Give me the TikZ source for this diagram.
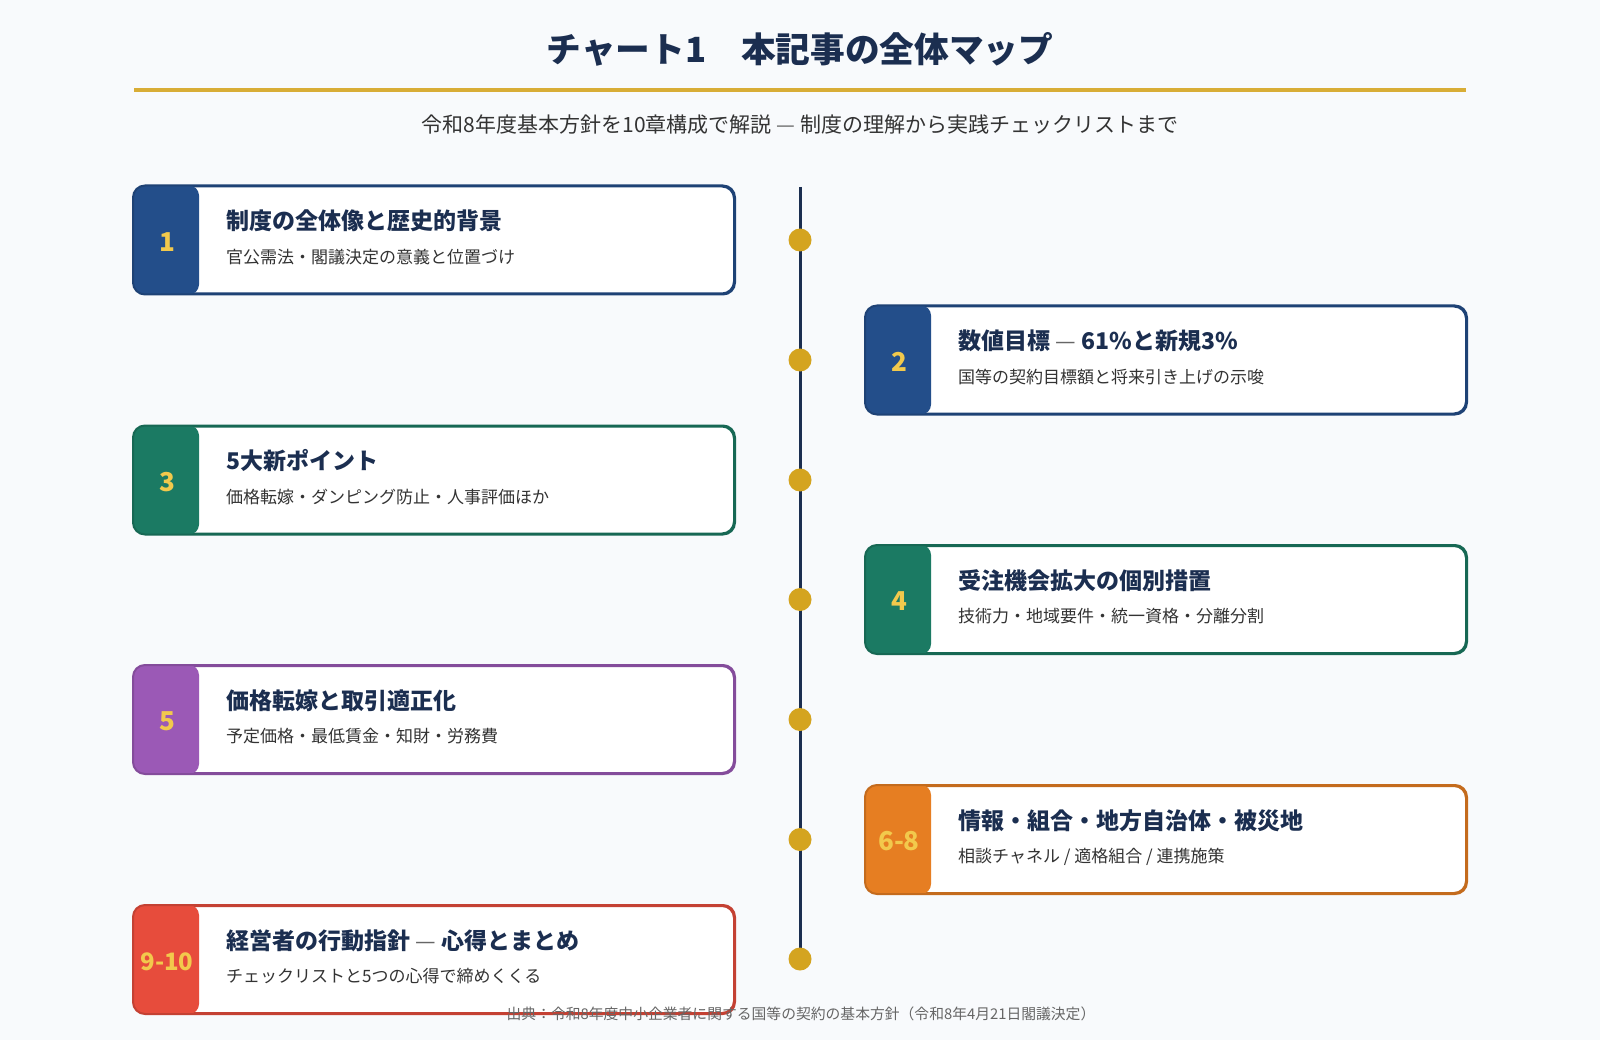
\documentclass[tikz,border=0pt]{standalone}
\usepackage{fontspec}
\setmainfont{Noto Sans CJK JP}
\definecolor{bgc}{HTML}{F8FAFC}
\definecolor{navy}{HTML}{1B2E50}
\definecolor{cnavy}{HTML}{234E8A}
\definecolor{cteal}{HTML}{1B7A63}
\definecolor{cpurple}{HTML}{9B59B6}
\definecolor{corange}{HTML}{E67E22}
\definecolor{cred}{HTML}{E74C3C}
\definecolor{gold}{HTML}{D4A420}
\definecolor{numgold}{HTML}{F2C94C}
\definecolor{subgray}{HTML}{333333}
\definecolor{footgray}{HTML}{666666}
\tikzset{
  cardbox/.style={draw, line width=2pt, rounded corners=12pt, fill=white,
    minimum width=600pt, minimum height=107pt, inner sep=0pt},
  cardtitle/.style={anchor=west, inner sep=0pt, font=\fontsize{23}{27}\selectfont\bfseries, text=navy},
  cardsub/.style={anchor=west, inner sep=0pt, font=\fontsize{17}{20}\selectfont, text=subgray},
  badgenum/.style={inner sep=0pt, font=\fontsize{26}{30}\selectfont\bfseries, text=numgold},
  tldot/.style={circle, fill=gold, minimum size=23pt, inner sep=0pt}
}
\newcommand\chapcard[7]{%
  % #1 name, #2 center x, #3 center y, #4 colour, #5 number, #6 title, #7 subtitle
  \node[cardbox, draw=#4!85!black] (#1) at (#2,#3) {};
  \begin{scope}
    \clip[rounded corners=12pt] (#1.south west) rectangle (#1.north east);
    \fill[#4, rounded corners=10pt] ([xshift=-20pt]#1.north west) rectangle ([xshift=66pt]#1.south west);
  \end{scope}
  \draw[#4!85!black, line width=2pt, rounded corners=12pt] (#1.south west) rectangle (#1.north east);
  \node[badgenum] (#1num) at ([xshift=34pt,yshift=-2pt]#1.west) {#5};
  \node[cardtitle] (#1title) at ([xshift=93pt,yshift=19pt]#1.west) {#6};
  \node[cardsub] (#1sub) at ([xshift=93pt,yshift=-17pt]#1.west) {#7};
}
\begin{document}
\begin{tikzpicture}[x=1pt,y=-1pt]
\fill[bgc] (0,0) rectangle (1600,1040);
\useasboundingbox (0,0) rectangle (1600,1040);
% header
\node[font=\fontsize{34.7}{38}\selectfont\bfseries, text=navy] (title) at (800,49) {チャート1　本記事の全体マップ};
\coordinate (gl) at (134,90);
\coordinate (gr) at (1466,90);
\draw[gold!90!white, line width=3.5pt] (gl) -- (gr);
\node[font=\fontsize{21}{24}\selectfont, text=subgray] (subtitle) at (800,125) {令和8年度基本方針を10章構成で解説 {\color{footgray}—} 制度の理解から実践チェックリストまで};
% timeline
\coordinate (tltop) at (800,187);
\coordinate (tlbot) at (800,959);
\draw[navy, line width=3pt] (tltop) -- (tlbot);
\foreach \i/\yy in {1/240,2/360,3/480,4/599.5,5/719.5,6/839.5,7/959}{
  \node[tldot] (dot\i) at (800,\yy) {};
}
% cards
\chapcard{c1}{434}{240}{cnavy}{1}{制度の全体像と歴史的背景}{官公需法・閣議決定の意義と位置づけ}
\chapcard{c2}{1166}{360}{cnavy}{2}{数値目標 {\mdseries\color{footgray}—} 61\%と新規3\%}{国等の契約目標額と将来引き上げの示唆}
\chapcard{c3}{434}{480}{cteal}{3}{5大新ポイント}{価格転嫁・ダンピング防止・人事評価ほか}
\chapcard{c4}{1166}{599.5}{cteal}{4}{受注機会拡大の個別措置}{技術力・地域要件・統一資格・分離分割}
\chapcard{c5}{434}{719.5}{cpurple}{5}{価格転嫁と取引適正化}{予定価格・最低賃金・知財・労務費}
\chapcard{c6}{1166}{839.5}{corange}{6-8}{情報・組合・地方自治体・被災地}{相談チャネル / 適格組合 / 連携施策}
\chapcard{c9}{434}{959.5}{cred}{{\fontsize{24}{28}\selectfont 9-10}}{経営者の行動指針 {\mdseries\color{footgray}—} 心得とまとめ}{チェックリストと5つの心得で締めくくる}
% footer
\node[font=\fontsize{14.8}{17}\selectfont, text=footgray] (footer) at (801,1014) {出典：令和8年度中小企業者に関する国等の契約の基本方針（令和8年4月21日閣議決定）};
\end{tikzpicture}
\end{document}
